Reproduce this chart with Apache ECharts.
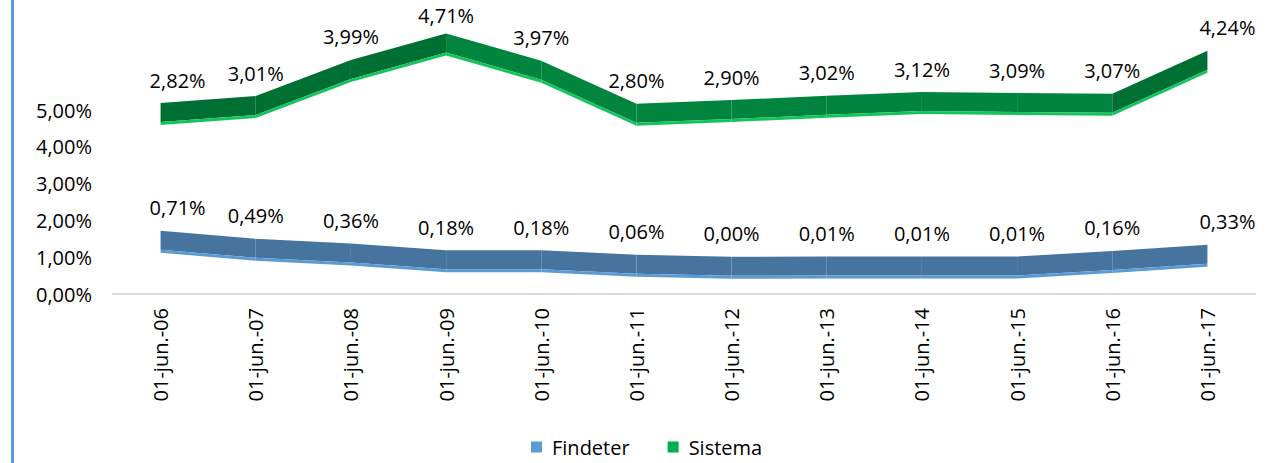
<!DOCTYPE html>
<html style="height: 100%">
<head>
    <meta charset="utf-8">
</head>
<body style="height: 100%; margin: 0">
<div id="frame" style="position: absolute; left: 11px; top: 0; width: 3px; height: 463px; background: #5f9dd6"></div>
<div id="container" style="position: absolute; left: 0; top: 0; width: 1270px; height: 463px"></div>
<script type="text/javascript" src="https://cdn.jsdelivr.net/npm/echarts@6/dist/echarts.min.js"></script>
<script type="text/javascript">
    var categories = ['01-jun.-06', '01-jun.-07', '01-jun.-08', '01-jun.-09', '01-jun.-10', '01-jun.-11',
        '01-jun.-12', '01-jun.-13', '01-jun.-14', '01-jun.-15', '01-jun.-16', '01-jun.-17'];
    var findeter = [0.71, 0.49, 0.36, 0.18, 0.18, 0.06, 0.00, 0.01, 0.01, 0.01, 0.16, 0.33];
    var sistema = [2.82, 3.01, 3.99, 4.71, 3.97, 2.80, 2.90, 3.02, 3.12, 3.09, 3.07, 4.24];
    var yTicks = [0, 1, 2, 3, 4, 5];

    var FONT = '"Open Sans", sans-serif';

    function pct(v) {
        return v.toFixed(2).replace('.', ',') + '%';
    }

    // ribbon drawn like the excel 3d line: one flat face per segment + a light lower edge
    function ribbon(values, face, faceDark, edge) {
        return function (params, api) {
            var i = params.dataIndex;
            var p = api.coord([i, values[i]]);
            var children = [];
            if (i < values.length - 1) {
                var q = api.coord([i + 1, values[i + 1]]);
                var rising = values[i + 1] - values[i] > 0.15;
                children.push({
                    type: 'polygon',
                    shape: {points: [[p[0], p[1] - 11], [q[0], q[1] - 11], [q[0], q[1] + 8], [p[0], p[1] + 8]]},
                    style: {fill: rising ? faceDark : face}
                });
                children.push({
                    type: 'polygon',
                    shape: {points: [[p[0], p[1] + 8], [q[0], q[1] + 8], [q[0], q[1] + 11], [p[0], p[1] + 11]]},
                    style: {fill: edge}
                });
            }
            var dx = 0;
            if (i === 0) dx = 17;
            if (i === values.length - 1) dx = 20;
            children.push({
                type: 'text',
                x: p[0] + dx,
                y: Math.max(p[1] - 34, 15),
                z2: 10,
                style: {
                    text: pct(values[i]),
                    align: 'center',
                    verticalAlign: 'middle',
                    fill: '#000',
                    font: '20px ' + FONT
                }
            });
            return {type: 'group', children: children};
        };
    }

    function points(values) {
        return values.map(function (v, i) { return [i, v]; });
    }

    var dom = document.getElementById("container");
    var myChart = echarts.init(dom, null, {renderer: 'svg'});
    var option = {
        animation: false,
        grid: {left: 113, right: 15, top: 110, bottom: 169},
        legend: {
            left: 526,
            bottom: 1,
            icon: 'rect',
            itemWidth: 11,
            itemHeight: 11,
            itemGap: 38,
            textStyle: {fontFamily: FONT, fontSize: 20, color: '#000', padding: [0, 0, 0, 5]},
            data: ['Findeter', 'Sistema']
        },
        xAxis: {
            type: 'category',
            data: categories,
            boundaryGap: true,
            axisLine: {lineStyle: {color: '#d9d9d9', width: 2}},
            axisTick: {show: false},
            axisLabel: {rotate: 90, margin: 14, fontFamily: FONT, fontSize: 20, color: '#000'}
        },
        yAxis: [{
            type: 'value',
            min: yTicks[0],
            max: yTicks[yTicks.length - 1],
            interval: 1,
            axisLine: {show: false},
            axisTick: {show: false},
            splitLine: {show: false},
            axisLabel: {margin: 21, fontFamily: FONT, fontSize: 20, color: '#000', formatter: pct}
        }, {
            // depth offset of the front ribbon
            type: 'value', show: false, min: -0.71, max: 4.29
        }, {
            // depth offset of the back ribbon
            type: 'value', show: false, min: -2.07, max: 2.93
        }],
        series: [{
            name: 'Findeter',
            type: 'custom',
            yAxisIndex: 1,
            itemStyle: {color: '#5b9bd5'},
            encode: {x: 0, y: 1},
            renderItem: ribbon(findeter, '#46749f', '#46749f', '#5b9bd5'),
            data: points(findeter)
        }, {
            name: 'Sistema',
            type: 'custom',
            yAxisIndex: 2,
            itemStyle: {color: '#00b050'},
            encode: {x: 0, y: 1},
            renderItem: ribbon(sistema, '#00843e', '#006f33', '#13c45c'),
            data: points(sistema)
        }]
    };

    if (option && typeof option === "object") {
        myChart.setOption(option, true);
    }
</script>
</body>
</html>
